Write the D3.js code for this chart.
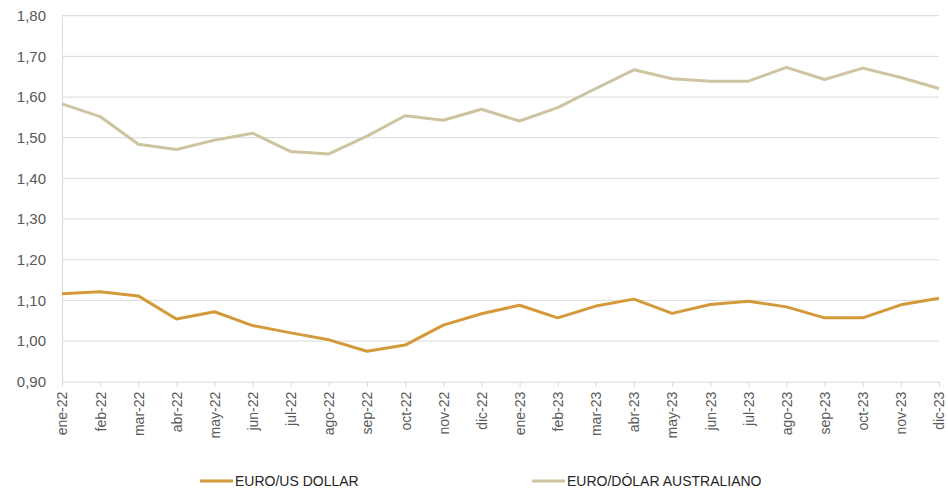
<!DOCTYPE html>
<html>
<head>
<meta charset="utf-8">
<script src="https://cdn.jsdelivr.net/npm/d3@7"></script>
<style>
html,body{margin:0;padding:0;background:#fff;}
svg{display:block;font-family:"Liberation Sans",Arial,sans-serif;}
</style>
</head>
<body>
<svg id="chart" width="948" height="490"></svg>
<script>
const months = ["ene-22","feb-22","mar-22","abr-22","may-22","jun-22","jul-22","ago-22","sep-22","oct-22","nov-22","dic-22",
                "ene-23","feb-23","mar-23","abr-23","may-23","jun-23","jul-23","ago-23","sep-23","oct-23","nov-23","dic-23"];
const usd = [1.116,1.121,1.111,1.054,1.072,1.038,1.020,1.003,0.975,0.990,1.039,1.067,
             1.088,1.057,1.086,1.103,1.068,1.090,1.098,1.084,1.057,1.057,1.089,1.105];
const aud = [1.583,1.552,1.484,1.471,1.494,1.511,1.466,1.460,1.504,1.554,1.543,1.570,
             1.541,1.574,1.621,1.667,1.645,1.639,1.639,1.673,1.643,1.671,1.648,1.621];
const yTicks = [0.90,1.00,1.10,1.20,1.30,1.40,1.50,1.60,1.70,1.80];
const seriesNames = ["EURO/US DOLLAR","EURO/DÓLAR AUSTRALIANO"];
const colors = ["#D4993A","#CFC4A0"];

const svg = d3.select("#chart");
const mLeft = 62, mRight = 939, mTop = 15.7, mBottom = 381.7;

const x = d3.scalePoint().domain(months).range([mLeft, mRight]);
const y = d3.scaleLinear().domain([0.9, 1.8]).range([mBottom, mTop]);
const fmt = v => d3.format(".2f")(v).replace(".", ",");

// gridlines
svg.append("g").selectAll("line").data(yTicks.slice(1)).join("line")
  .attr("x1", mLeft).attr("x2", mRight)
  .attr("y1", d => y(d)).attr("y2", d => y(d))
  .attr("stroke", "#D9D9D9").attr("stroke-width", 1);

// y axis
const yAxis = svg.append("g").attr("transform", `translate(${mLeft},0)`)
  .call(d3.axisLeft(y).tickValues(yTicks).tickFormat(fmt).tickSize(0).tickPadding(16));
yAxis.select(".domain").attr("stroke", "#D9D9D9");
yAxis.selectAll("text").attr("fill", "#595959").style("font-size", "15px")
  .style("font-family", "'Liberation Sans',Arial,sans-serif");

// x axis
const xAxis = svg.append("g").attr("transform", `translate(0,${mBottom})`)
  .call(d3.axisBottom(x).tickSize(5).tickSizeOuter(0));
xAxis.select(".domain").attr("stroke", "#D9D9D9");
xAxis.selectAll(".tick line").attr("stroke", "#D9D9D9");
xAxis.selectAll("text")
  .attr("fill", "#595959").style("font-size", "14px")
  .style("font-family", "'Liberation Sans',Arial,sans-serif")
  .attr("text-anchor", "end")
  .attr("transform", "rotate(-90)")
  .attr("x", -10).attr("y", 0).attr("dy", "0.35em");

// lines
const line = d3.line().x((d, i) => x(months[i])).y(d => y(d));
[usd, aud].forEach((s, k) => {
  svg.append("path").datum(s)
    .attr("fill", "none").attr("stroke", colors[k]).attr("stroke-width", 3)
    .attr("stroke-linejoin", "round").attr("d", line);
});

// legend
const legendX = [200, 532];
const lg = svg.append("g");
seriesNames.forEach((n, k) => {
  lg.append("line").attr("x1", legendX[k]).attr("x2", legendX[k] + 33)
    .attr("y1", 481).attr("y2", 481).attr("stroke", colors[k]).attr("stroke-width", 3);
  lg.append("text").attr("x", legendX[k] + 35).attr("y", 481).attr("dy", "0.36em")
    .attr("fill", "#262626").style("font-size", "14px").text(n);
});
</script>
</body>
</html>
